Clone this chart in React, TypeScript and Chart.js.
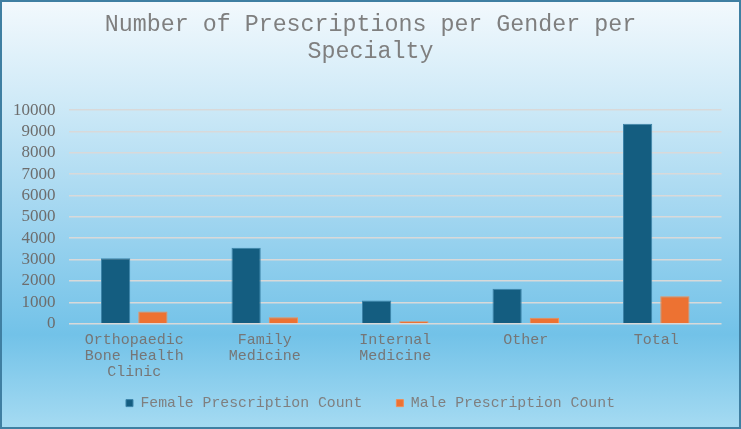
import React, { useEffect, useRef } from "react";
import { Chart, registerables } from "chart.js";

Chart.register(...registerables);

const categories: (string | string[])[] = [
  ["Orthopaedic", "Bone Health", "Clinic"],
  ["Family", "Medicine"],
  ["Internal", "Medicine"],
  "Other",
  "Total",
];
const femaleCounts = [3060, 3560, 1090, 1640, 9360];
const maleCounts = [570, 300, 120, 280, 1280];
const yMin = 0;
const yMax = 10000;
const yStep = 1000;
const titleLines = ["Number of Prescriptions per Gender per", "Specialty"];
const seriesNames = ["Female Prescription Count", "Male Prescription Count"];

const extendXLabelArea = {
  id: "extendXLabelArea",
  afterLayout(chart: any) {
    const x = chart.scales.x;
    if (x) x.bottom = x.top + 70;
  },
};

export default function App() {
  const ref = useRef<HTMLCanvasElement>(null);
  useEffect(() => {
    if (!ref.current) return;
    const chart = new Chart(ref.current, {
      type: "bar",
      data: {
        labels: categories,
        datasets: [
          {
            label: seriesNames[0],
            data: femaleCounts,
            backgroundColor: "#145d80",
            borderColor: "#3d84a8",
            borderWidth: 1,
            barPercentage: 0.785,
            categoryPercentage: 0.571,
          },
          {
            label: seriesNames[1],
            data: maleCounts,
            backgroundColor: "#ed7232",
            borderColor: "#f08e58",
            borderWidth: 1,
            barPercentage: 0.785,
            categoryPercentage: 0.571,
          },
        ],
      },
      plugins: [extendXLabelArea],
      options: {
        responsive: false,
        animation: false,
        maintainAspectRatio: false,
        layout: { padding: { left: 0, right: 0, top: 0, bottom: 8.5 } },
        plugins: {
          tooltip: { enabled: false },
          title: {
            display: true,
            text: titleLines,
            color: "#7f7f7f",
            font: { family: "Liberation Mono", size: 23.3, weight: "normal", lineHeight: 1.16 },
            padding: { top: 11, bottom: 45 },
          },
          legend: {
            display: true,
            position: "bottom",
            labels: {
              color: "#7f7f7f",
              font: { family: "Liberation Mono", size: 14.8 },
              boxWidth: 7,
              boxHeight: 7,
              padding: 34,
            },
          },
        },
        scales: {
          x: {
            afterFit: (s: any) => {
              s.height = 38;
            },
            grid: { display: false, drawTicks: false },
            border: { display: false },
            ticks: {
              color: "#767676",
              font: { family: "Liberation Mono", size: 15, lineHeight: 1.087 },
              maxRotation: 0,
              minRotation: 0,
              autoSkip: false,
              padding: 8,
            },
          },
          y: {
            min: yMin,
            max: yMax,
            afterFit: (s: any) => {
              s.width = 69;
            },
            grid: { color: "#d9d9d9", lineWidth: 1.6, drawTicks: false },
            border: { display: false },
            ticks: {
              stepSize: yStep,
              autoSkip: false,
              color: "#6d6d6d",
              font: { family: "Liberation Serif", size: 17 },
              padding: 13.5,
              callback: (v: any) => String(v),
            },
          },
          yRightSpace: {
            type: "linear",
            position: "right",
            display: true,
            afterFit: (s: any) => {
              s.width = 19.5;
            },
            grid: { display: false, drawTicks: false },
            border: { display: false },
            ticks: { display: false },
          },
        },
      },
    });
    return () => chart.destroy();
  }, []);

  return (
    <div
      style={{
        position: "absolute",
        left: 0,
        top: 0,
        width: 741,
        height: 429,
        background:
          "linear-gradient(to bottom, #f3f9fd 0%, #cde9f7 25%, #a2d6f0 50%, #72c2e8 78%, #a6dbf2 100%)",
      }}
    >
      <canvas ref={ref} width={741} height={429} style={{ display: "block" }} />
      <div
        style={{
          position: "absolute",
          left: 0,
          top: 0,
          width: 741,
          height: 429,
          boxSizing: "border-box",
          border: "2.5px solid #3f7fa2",
          pointerEvents: "none",
        }}
      />
    </div>
  );
}
